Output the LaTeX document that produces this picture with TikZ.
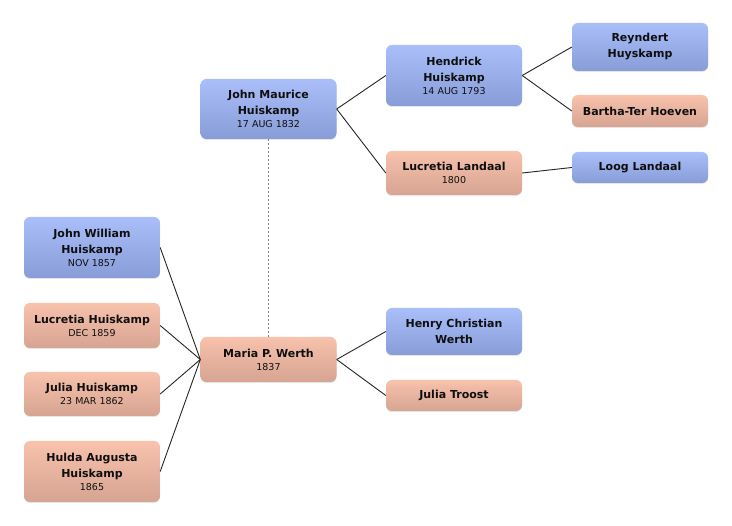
\documentclass[tikz,border=0pt]{standalone}
\usepackage{fontspec}
\setmainfont{DejaVu Sans}
\usetikzlibrary{shadows}
\definecolor{mtop}{RGB}{170,190,250}
\definecolor{mbot}{RGB}{136,156,216}
\definecolor{ftop}{RGB}{248,194,172}
\definecolor{fbot}{RGB}{214,164,146}
\definecolor{txt}{RGB}{15,15,15}
\newcommand{\dte}[1]{{\fontsize{9.5}{12}\selectfont\mdseries #1}}
\tikzset{
  person/.style={rounded corners=6pt, minimum width=136pt, inner sep=0pt, align=center,
    font=\fontsize{11}{16}\selectfont\bfseries, text=txt,
    drop shadow={opacity=0.2, shadow xshift=0pt, shadow yshift=-1pt}},
  male/.style={person, top color=mtop, bottom color=mbot},
  female/.style={person, top color=ftop, bottom color=fbot},
  link/.style={draw=black!85, line width=0.9pt},
  spouse/.style={draw=black!50, line width=1.6pt, dash pattern=on 2pt off 2pt}
}
\begin{document}
\begin{tikzpicture}[x=1pt,y=-1pt]
\path[use as bounding box, fill=white] (0,0) rectangle (732,526);
% column 1
\node[male, minimum height=61pt] (jw) at (92,247.5) {John William\\Huiskamp\\[-3pt]\dte{NOV 1857}};
\node[female, minimum height=45pt] (lh) at (92,325.5) {Lucretia Huiskamp\\[-3pt]\dte{DEC 1859}};
\node[female, minimum height=44pt] (jh) at (92,394) {Julia Huiskamp\\[-3pt]\dte{23 MAR 1862}};
\node[female, minimum height=61pt] (ha) at (92,471.5) {Hulda Augusta\\Huiskamp\\[-3pt]\dte{1865}};
% column 2
\node[male, minimum height=60pt] (jm) at (268.5,109) {John Maurice\\Huiskamp\\[-3pt]\dte{17 AUG 1832}};
\node[female, minimum height=45pt] (mw) at (268.5,359.5) {Maria P. Werth\\[-3pt]\dte{1837}};
% column 3
\node[male, minimum height=61pt] (hh) at (454,75.5) {Hendrick\\Huiskamp\\[-3pt]\dte{14 AUG 1793}};
\node[female, minimum height=44pt] (ll) at (454,173) {Lucretia Landaal\\[-3pt]\dte{1800}};
\node[male, minimum height=47pt] (hc) at (454,331.5) {Henry Christian\\Werth};
\node[female, minimum height=31pt] (jt) at (454,395.5) {Julia Troost};
% column 4
\node[male, minimum height=48pt] (rh) at (640,47) {Reyndert\\Huyskamp};
\node[female, minimum height=32pt] (bt) at (640,111) {Bartha-Ter Hoeven};
\node[male, minimum height=31pt] (lo) at (640,167.5) {Loog Landaal};
% connectors
\draw[spouse] (jm.south) -- (mw.north);
\draw[link] (jm.east) -- (hh.west);
\draw[link] (jm.east) -- (ll.west);
\draw[link] (hh.east) -- (rh.west);
\draw[link] (hh.east) -- (bt.west);
\draw[link] (ll.east) -- (lo.west);
\draw[link] (mw.east) -- (hc.west);
\draw[link] (mw.east) -- (jt.west);
\draw[link] (jw.east) -- (mw.west);
\draw[link] (lh.east) -- (mw.west);
\draw[link] (jh.east) -- (mw.west);
\draw[link] (ha.east) -- (mw.west);
\end{tikzpicture}
\end{document}
